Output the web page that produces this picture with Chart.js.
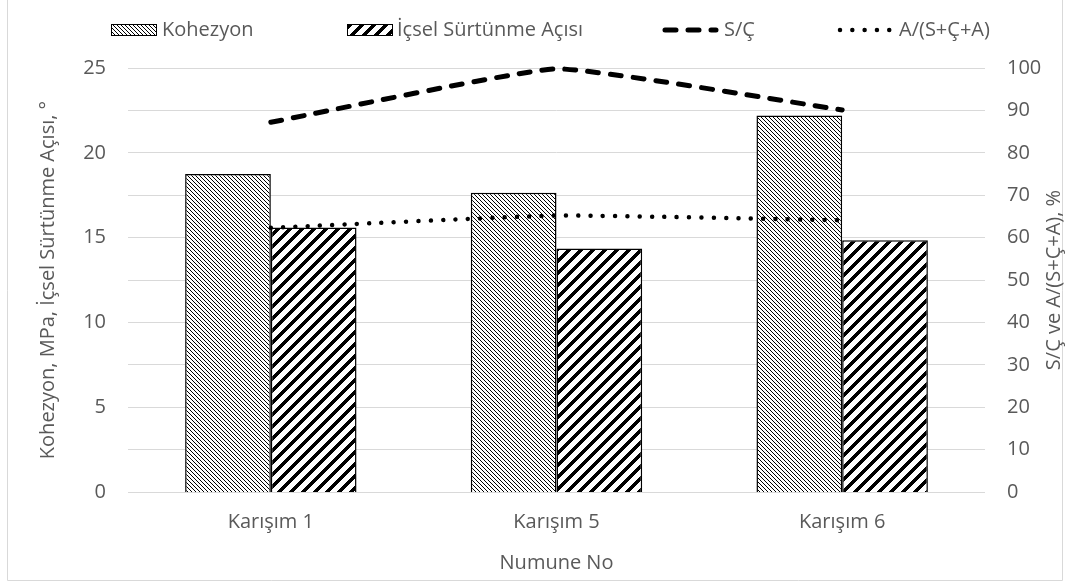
<!DOCTYPE html>
<html lang="tr">
<head>
<meta charset="UTF-8">
<title>Kohezyon ve İçsel Sürtünme Açısı</title>
<script src="https://cdn.jsdelivr.net/npm/chart.js"></script>
<style>
  html, body { margin: 0; padding: 0; background: #fff; }
  #wrap { width: 1068px; height: 583px; }
</style>
</head>
<body>
<div id="wrap"><canvas id="chart" width="1068" height="583"></canvas></div>
<script>
// data
const categories = ["Karışım 1", "Karışım 5", "Karışım 6"];
const kohezyon = [18.75, 17.65, 22.2];
const icselSurtunme = [15.6, 14.35, 14.85];
const scOrani = [87.2, 99.8, 90.1];
const aOrani = [62.3, 65.2, 64.1];
const leftTicks = [0, 5, 10, 15, 20, 25];
const rightTicks = [0, 10, 20, 30, 40, 50, 60, 70, 80, 90, 100];

const seriesNames = ["Kohezyon", "İçsel Sürtünme Açısı", "S/Ç", "A/(S+Ç+A)"];
const FONT = "'Open Sans', 'Noto Sans', sans-serif";
const FS = 20;
const GREY = "#595959";

// simple 1-bit hatch patterns
function makePattern(size, test) {
    const c = document.createElement("canvas");
    c.width = size; c.height = size;
    const g = c.getContext("2d");
    const img = g.createImageData(size, size);
    for (let y = 0; y < size; y++) {
        for (let x = 0; x < size; x++) {
            const i = (y * size + x) * 4;
            const v = test(x, y) ? 0 : 255;
            img.data[i] = img.data[i + 1] = img.data[i + 2] = v;
            img.data[i + 3] = 255;
        }
    }
    g.putImageData(img, 0, 0);
    return g.createPattern(c, "repeat");
}
const fineDown = makePattern(4, (x, y) => ((x - y) % 4 + 4) % 4 === 0);
const wideUp = makePattern(12, (x, y) => (x + y) % 12 < 5);

const dashSC = [11, 12];
const dotA = [0.01, 12.3];

// legend, right axis title and outer frame
const decor = {
    id: "decor",
    afterDraw(chart) {
        const ctx = chart.ctx;
        ctx.save();

        ctx.strokeStyle = "#d9d9d9";
        ctx.lineWidth = 1;
        ctx.beginPath();
        ctx.moveTo(7.5, 0); ctx.lineTo(7.5, 580.5);
        ctx.lineTo(1062.5, 580.5); ctx.lineTo(1062.5, 0);
        ctx.stroke();

        // right axis title, reads bottom to top
        ctx.fillStyle = GREY;
        ctx.font = FS + "px " + FONT;
        ctx.textAlign = "center";
        ctx.textBaseline = "middle";
        ctx.translate(1054, 280);
        ctx.rotate(-Math.PI / 2);
        ctx.fillText("S/Ç ve A/(S+Ç+A), %", 0, 0);
        ctx.setTransform(1, 0, 0, 1, 0, 0);

        const ly = 30;
        ctx.textAlign = "left";

        ctx.fillStyle = fineDown;
        ctx.fillRect(111, ly - 6, 46, 12);
        ctx.strokeStyle = "#000";
        ctx.lineWidth = 1;
        ctx.strokeRect(111.5, ly - 5.5, 45, 11);
        ctx.fillStyle = GREY;
        ctx.fillText(seriesNames[0], 162, ly);

        ctx.fillStyle = wideUp;
        ctx.fillRect(347, ly - 6, 46, 12);
        ctx.strokeRect(347.5, ly - 5.5, 45, 11);
        ctx.fillStyle = GREY;
        ctx.fillText(seriesNames[1], 397, ly);

        ctx.lineCap = "round";
        ctx.lineWidth = 5;
        ctx.setLineDash(dashSC);
        ctx.beginPath(); ctx.moveTo(665, ly); ctx.lineTo(716, ly); ctx.stroke();
        ctx.fillText(seriesNames[2], 724, ly);

        ctx.lineWidth = 4.5;
        ctx.setLineDash(dotA);
        ctx.beginPath(); ctx.moveTo(840, ly); ctx.lineTo(892, ly); ctx.stroke();
        ctx.setLineDash([]);
        ctx.fillText(seriesNames[3], 899, ly);

        ctx.restore();
    }
};

new Chart(document.getElementById("chart"), {
    data: {
        labels: categories,
        datasets: [
            {
                type: "line", label: seriesNames[2], data: scOrani, yAxisID: "y1", order: 0,
                borderColor: "#000", borderWidth: 5, borderDash: dashSC, borderCapStyle: "round",
                tension: 0.12, pointRadius: 0, fill: false, clip: false
            },
            {
                type: "line", label: seriesNames[3], data: aOrani, yAxisID: "y1", order: 0,
                borderColor: "#000", borderWidth: 4.5, borderDash: dotA, borderCapStyle: "round",
                tension: 0.12, pointRadius: 0, fill: false, clip: false
            },
            {
                type: "bar", label: seriesNames[0], data: kohezyon, yAxisID: "y", order: 1,
                backgroundColor: fineDown, borderColor: "#000", borderWidth: 1.5,
                categoryPercentage: 0.6, barPercentage: 1.0
            },
            {
                type: "bar", label: seriesNames[1], data: icselSurtunme, yAxisID: "y", order: 1,
                backgroundColor: wideUp, borderColor: "#000", borderWidth: 1.5,
                categoryPercentage: 0.6, barPercentage: 1.0
            }
        ]
    },
    options: {
        responsive: false,
        animation: false,
        layout: { padding: { top: 68, left: 0, right: 0, bottom: 0 } },
        plugins: { legend: { display: false }, tooltip: { enabled: false } },
        scales: {
            x: {
                grid: { display: false, drawTicks: false, tickLength: 0 },
                border: { display: false },
                ticks: { color: GREY, font: { family: FONT, size: FS }, padding: 18 },
                title: {
                    display: true, text: "Numune No", color: GREY,
                    font: { family: FONT, size: FS }, padding: { top: 0, bottom: 8 }
                },
                afterFit(s) { s.height = 91; }
            },
            y: {
                position: "left",
                min: leftTicks[0], max: leftTicks[leftTicks.length - 1],
                afterBuildTicks(s) { s.ticks = leftTicks.map(v => ({ value: v })); },
                grid: { display: false, drawTicks: false, tickLength: 0 },
                border: { display: false },
                ticks: { color: GREY, font: { family: FONT, size: FS }, padding: 22 },
                title: {
                    display: true, text: "Kohezyon, MPa, İçsel Sürtünme Açısı, °", color: GREY,
                    font: { family: FONT, size: FS }, padding: { top: 36, bottom: 0 }
                },
                afterFit(s) { s.width = 128; }
            },
            y1: {
                position: "right",
                min: rightTicks[0], max: rightTicks[rightTicks.length - 1],
                afterBuildTicks(s) { s.ticks = rightTicks.map(v => ({ value: v })); },
                grid: { color: "#d9d9d9", lineWidth: 1, drawTicks: false, tickLength: 0 },
                border: { display: false },
                ticks: { color: GREY, font: { family: FONT, size: FS }, padding: 22 },
                afterFit(s) { s.width = 83; }
            }
        }
    },
    plugins: [decor]
});
</script>
</body>
</html>
